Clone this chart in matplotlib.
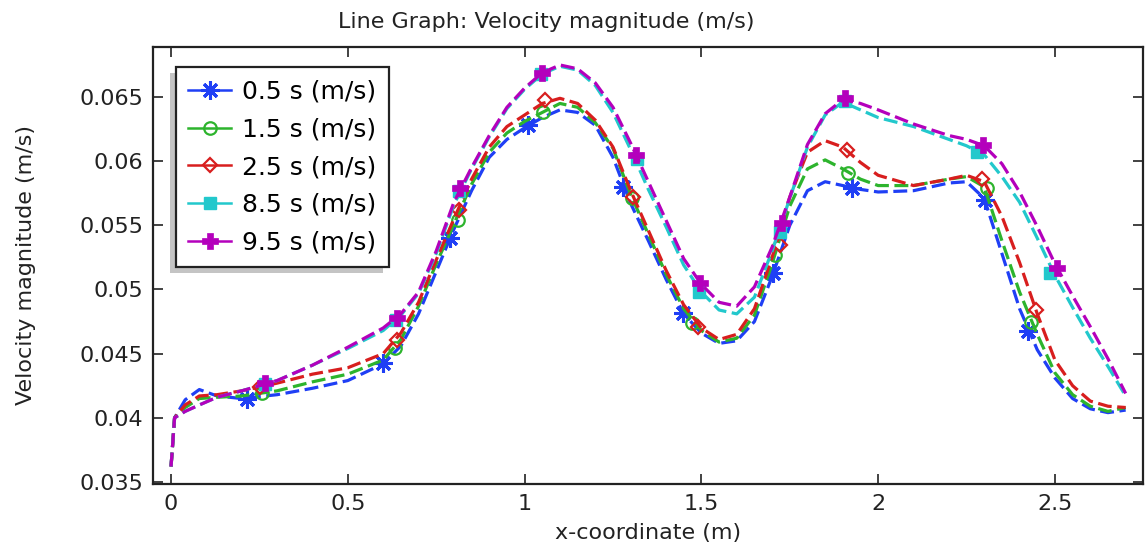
import matplotlib
matplotlib.use("Agg")
import matplotlib.pyplot as plt
from matplotlib.lines import Line2D
from matplotlib.patches import Rectangle
from matplotlib.transforms import IdentityTransform

plt.rcParams['font.family'] = ['DejaVu Sans']
plt.rcParams['lines.scale_dashes'] = False

# shared x grid (m)
x = [0, 0.01, 0.04, 0.08, 0.13, 0.2, 0.3, 0.4, 0.5, 0.6, 0.65, 0.7, 0.75, 0.8,
     0.85, 0.9, 0.95, 1.0, 1.05, 1.1, 1.15, 1.2, 1.25, 1.3, 1.35, 1.4, 1.45,
     1.5, 1.55, 1.6, 1.65, 1.7, 1.75, 1.8, 1.85, 1.9, 1.95, 2.0, 2.1, 2.2,
     2.25, 2.3, 2.35, 2.4, 2.45, 2.5, 2.55, 2.6, 2.65, 2.7]

v_05 = [0.0362, 0.0400, 0.0414, 0.0422, 0.0417, 0.0415, 0.0418, 0.0423, 0.0429,
        0.0442, 0.0456, 0.0481, 0.0514, 0.0547, 0.0577, 0.0603, 0.0617, 0.0626,
        0.0634, 0.0640, 0.0638, 0.0628, 0.0603, 0.0567, 0.0538, 0.0508, 0.0481,
        0.0466, 0.0458, 0.0460, 0.0475, 0.0510, 0.0550, 0.0577, 0.0584, 0.0581,
        0.0578, 0.0576, 0.0577, 0.0583, 0.0584, 0.0571, 0.0528, 0.0485, 0.0453,
        0.0431, 0.0415, 0.0407, 0.0404, 0.0406]
v_15 = [0.0362, 0.0400, 0.0408, 0.0415, 0.0416, 0.0417, 0.0421, 0.0428, 0.0434,
        0.0445, 0.0461, 0.0487, 0.0520, 0.0551, 0.0582, 0.0607, 0.0622, 0.0631,
        0.0638, 0.0645, 0.0642, 0.0630, 0.0610, 0.0574, 0.0543, 0.0512, 0.0485,
        0.0468, 0.0459, 0.0462, 0.0480, 0.0520, 0.0565, 0.0594, 0.0601, 0.0594,
        0.0586, 0.0581, 0.0581, 0.0586, 0.0588, 0.0580, 0.0538, 0.0498, 0.0465,
        0.0435, 0.0418, 0.0409, 0.0405, 0.0408]
v_25 = [0.0362, 0.0400, 0.0410, 0.0417, 0.0418, 0.0421, 0.0427, 0.0434, 0.0439,
        0.0450, 0.0466, 0.0490, 0.0523, 0.0555, 0.0586, 0.0611, 0.0627, 0.0636,
        0.0645, 0.0649, 0.0645, 0.0632, 0.0611, 0.0577, 0.0546, 0.0515, 0.0488,
        0.0470, 0.0461, 0.0465, 0.0485, 0.0525, 0.0572, 0.0607, 0.0616, 0.0611,
        0.0599, 0.0589, 0.0581, 0.0586, 0.0589, 0.0584, 0.0557, 0.0521, 0.0481,
        0.0445, 0.0425, 0.0413, 0.0409, 0.0408]
v_85 = [0.0362, 0.0400, 0.0405, 0.0410, 0.0416, 0.0421, 0.0429, 0.0441, 0.0454,
        0.0468, 0.0480, 0.0497, 0.0528, 0.0566, 0.0594, 0.0619, 0.0641, 0.0656,
        0.0668, 0.0674, 0.0671, 0.0659, 0.0638, 0.0609, 0.0578, 0.0549, 0.0519,
        0.0498, 0.0484, 0.0481, 0.0494, 0.0530, 0.0571, 0.0611, 0.0636, 0.0646,
        0.0640, 0.0634, 0.0627, 0.0617, 0.0612, 0.0605, 0.0588, 0.0568, 0.0540,
        0.0511, 0.0486, 0.0462, 0.0440, 0.0417]
v_95 = [0.0362, 0.0400, 0.0405, 0.0410, 0.0416, 0.0421, 0.0429, 0.0441, 0.0455,
        0.0470, 0.0481, 0.0498, 0.0530, 0.0568, 0.0595, 0.0620, 0.0642, 0.0657,
        0.0669, 0.0675, 0.0672, 0.0661, 0.0642, 0.0614, 0.0584, 0.0554, 0.0524,
        0.0504, 0.0490, 0.0487, 0.0502, 0.0533, 0.0572, 0.0613, 0.0637, 0.0648,
        0.0645, 0.0640, 0.0629, 0.0620, 0.0617, 0.0612, 0.0598, 0.0576, 0.0549,
        0.0520, 0.0495, 0.0471, 0.0446, 0.0419]

# marker locations
mx_05 = [0.215, 0.60, 0.789, 1.01, 1.278, 1.448, 1.702, 1.926, 2.302, 2.424]
my_05 = [0.0415, 0.0443, 0.0540, 0.0628, 0.0580, 0.0482, 0.0513, 0.0579, 0.0570, 0.0468]
mx_15 = [0.257, 0.633, 0.812, 1.052, 1.304, 1.473, 1.708, 1.915, 2.307, 2.432]
my_15 = [0.0419, 0.0454, 0.0554, 0.0638, 0.0571, 0.0474, 0.0527, 0.0591, 0.0579, 0.0475]
mx_25 = [0.252, 0.639, 0.814, 1.058, 1.307, 1.49, 1.722, 1.912, 2.293, 2.446]
my_25 = [0.0424, 0.0461, 0.0562, 0.0648, 0.0572, 0.0471, 0.0535, 0.0609, 0.0586, 0.0484]
mx_85 = [0.265, 0.637, 0.815, 1.047, 1.318, 1.493, 1.722, 1.905, 2.28, 2.486]
my_85 = [0.0426, 0.0476, 0.0577, 0.0668, 0.0602, 0.0498, 0.0545, 0.0647, 0.0607, 0.0513]
mx_95 = [0.266, 0.639, 0.817, 1.049, 1.315, 1.496, 1.728, 1.906, 2.296, 2.505]
my_95 = [0.0427, 0.0478, 0.0579, 0.0669, 0.0605, 0.0505, 0.0552, 0.0649, 0.0613, 0.0517]

labels = ['0.5 s (m/s)', '1.5 s (m/s)', '2.5 s (m/s)', '8.5 s (m/s)', '9.5 s (m/s)']
colors = ['#1f3ff5', '#2db42d', '#d81e1e', '#22c8cc', '#b400bc']

series = [(v_05, mx_05, my_05), (v_15, mx_15, my_15), (v_25, mx_25, my_25),
          (v_85, mx_85, my_85), (v_95, mx_95, my_95)]
marker_style = [
    dict(marker=(8, 2, 0), markersize=13, markeredgewidth=2.2, markerfacecolor='none'),
    dict(marker='o', markersize=9, markeredgewidth=1.6, markerfacecolor='none'),
    dict(marker='D', markersize=7, markeredgewidth=1.6, markerfacecolor='none'),
    dict(marker='s', markersize=8, markeredgewidth=1.0),
    dict(marker='P', markersize=12, markeredgewidth=0.5),
]

fig = plt.figure(figsize=(11.47, 5.46), dpi=100)
ax = fig.add_axes([0.1334, 0.1136, 0.8631, 0.8003])

handles = []
for (yv, mx, my), c, lab, ms in zip(series, colors, labels, marker_style):
    ax.plot(x, yv, color=c, lw=2.3, dashes=(10, 4))
    ax.plot(mx, my, linestyle='none', color=c, markeredgecolor=c, **ms)
    handles.append(Line2D([], [], color=c, lw=1.8, markeredgecolor=c, label=lab, **ms))

ax.set_xlim(-0.051, 2.749)
ax.set_ylim(0.03484, 0.0689)
ax.set_xticks([0, 0.5, 1, 1.5, 2, 2.5])
ax.set_xticklabels(['0', '0.5', '1', '1.5', '2', '2.5'])
ax.set_yticks([0.035, 0.04, 0.045, 0.05, 0.055, 0.06, 0.065])
ax.set_yticklabels(['0.035', '0.04', '0.045', '0.05', '0.055', '0.06', '0.065'])
ax.tick_params(direction='in', top=True, right=True, length=7, width=1.2,
               labelsize=16, pad=7, colors='#222222')
for sp in ax.spines.values():
    sp.set_linewidth(1.6)
    sp.set_color('#222222')

ax.set_xlabel('x-coordinate (m)', fontsize=16, labelpad=7, color='#222222')
ax.set_ylabel('Velocity magnitude (m/s)', fontsize=16, labelpad=31, color='#222222')
fig.text(0.476, 0.96, 'Line Graph: Velocity magnitude (m/s)', ha='center',
         va='center', fontsize=16, color='#222222')

leg = ax.legend(handles=handles, loc='upper left', bbox_to_anchor=(0.0232, 0.954),
                borderaxespad=0, fontsize=18, fancybox=False, framealpha=1,
                edgecolor='#222222', handlelength=1.7, handletextpad=0.45,
                labelspacing=0.55, borderpad=0.5)
leg.get_frame().set_linewidth(1.6)

# gray drop shadow down-left of the legend box
fig.canvas.draw()
bb = leg.get_window_extent()
shadow = Rectangle((bb.x0 - 6, bb.y0 - 6), bb.width, bb.height,
                   transform=IdentityTransform(), facecolor='#c4c4c4',
                   edgecolor='none', zorder=4.5)
ax.add_artist(shadow)

fig.savefig('out.png', dpi=100)
